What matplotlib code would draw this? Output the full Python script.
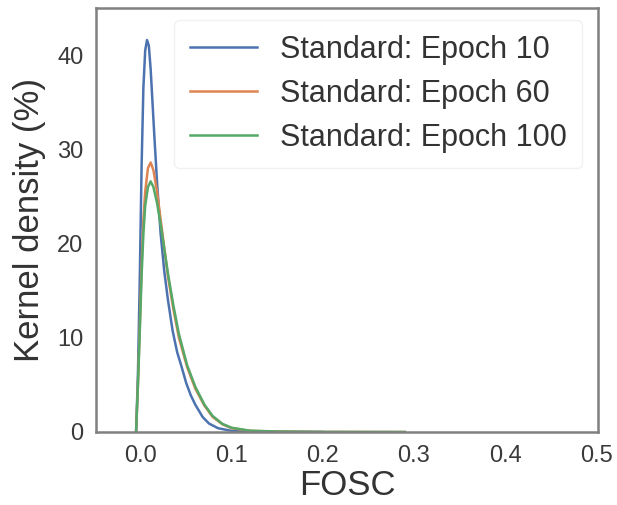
import matplotlib
matplotlib.use("Agg")
import matplotlib.pyplot as plt

# FOSC values (x) and kernel density (%)
x_e10 = [-0.005, -0.003, -0.001, 0.001, 0.003, 0.005, 0.007, 0.009, 0.011, 0.013, 0.015,
         0.018, 0.022, 0.026, 0.030, 0.035, 0.040, 0.045, 0.050, 0.055, 0.060, 0.068,
         0.075, 0.085, 0.100, 0.120, 0.150, 0.200]
y_e10 = [0.0, 6.0, 16.0, 28.0, 36.5, 40.5, 41.6, 41.0, 38.5, 35.0, 31.5,
         26.5, 21.0, 17.0, 14.0, 10.8, 8.5, 6.9, 5.2, 3.9, 2.9, 1.6,
         0.9, 0.4, 0.12, 0.04, 0.01, 0.0]

x_e60 = [-0.005, -0.003, -0.001, 0.001, 0.003, 0.005, 0.008, 0.011, 0.014, 0.018, 0.022,
         0.026, 0.030, 0.036, 0.042, 0.051, 0.060, 0.070, 0.079, 0.090, 0.100, 0.120,
         0.150, 0.200, 0.290]
y_e60 = [0.0, 5.0, 11.0, 17.5, 22.5, 25.5, 28.0, 28.6, 27.8, 25.5, 22.5,
         19.5, 16.5, 13.0, 10.0, 6.9, 4.6, 2.8, 1.6, 0.8, 0.4, 0.12,
         0.04, 0.01, 0.0]

x_e100 = [-0.005, -0.003, -0.001, 0.001, 0.003, 0.005, 0.008, 0.011, 0.014, 0.018, 0.022,
          0.026, 0.030, 0.036, 0.042, 0.051, 0.060, 0.070, 0.079, 0.090, 0.100, 0.120,
          0.150, 0.200, 0.290]
y_e100 = [0.0, 5.0, 10.5, 16.5, 21.0, 24.0, 26.0, 26.6, 26.0, 24.3, 22.0,
          19.4, 16.8, 13.4, 10.4, 7.1, 4.8, 2.9, 1.7, 0.85, 0.45, 0.14,
          0.05, 0.01, 0.0]

labels = ["Standard: Epoch 10", "Standard: Epoch 60", "Standard: Epoch 100"]
colors = ["#4C72B0", "#DD8452", "#55A868"]

xticks = [0.0, 0.1, 0.2, 0.3, 0.4, 0.5]
yticks = [0, 10, 20, 30, 40]

plt.rcParams['font.family'] = ['Liberation Sans', 'DejaVu Sans']

fig = plt.figure(figsize=(6.17, 5.05), dpi=100)
ax = fig.add_axes([96 / 617, 73 / 505, 502 / 617, 424 / 505])

for xs, ys, lab, c in zip([x_e10, x_e60, x_e100], [y_e10, y_e60, y_e100], labels, colors):
    ax.plot(xs, ys, color=c, lw=1.8, label=lab)

ax.set_xlim(-0.049, 0.502)
ax.set_ylim(0, 45)
ax.set_xticks(xticks)
ax.set_xticklabels([f"{v:.1f}" for v in xticks])
ax.set_yticks(yticks)
ax.tick_params(axis='both', length=0, labelsize=17, colors='#3a3a3a', pad=9)
ax.set_xlabel("FOSC", fontsize=25, color='#333333', labelpad=2)
ax.set_ylabel("Kernel density (%)", fontsize=25, color='#333333', labelpad=8)
for s in ax.spines.values():
    s.set_color('#808080')
    s.set_linewidth(1.8)

leg = ax.legend(loc='upper right', fontsize=22, frameon=True, handlelength=2.2,
                handletextpad=0.75, borderpad=0.5, labelspacing=0.45,
                borderaxespad=0, bbox_to_anchor=(0.968, 0.972))
leg.get_frame().set_edgecolor('#eeeeee')
leg.get_frame().set_linewidth(1.0)
for t in leg.get_texts():
    t.set_color('#333333')

fig.savefig("out.png", dpi=100)
